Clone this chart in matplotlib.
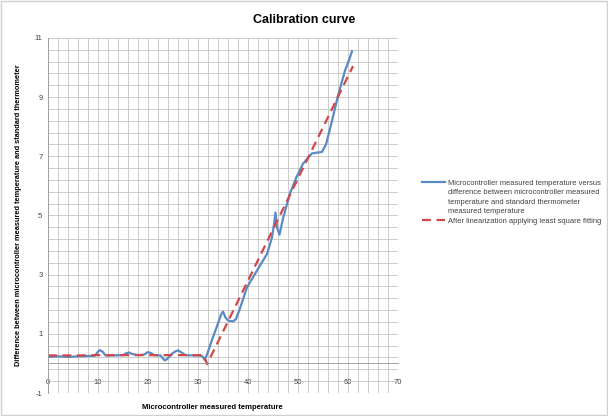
import matplotlib.pyplot as plt
import numpy as np
from matplotlib.patches import Rectangle

# blue: microcontroller measured temperature vs difference
mc_temp = [0, 2, 4, 6, 8, 9.4, 9.9, 10.4, 10.9, 11.5, 13, 15, 15.6, 16.2, 16.8, 18,
           19.3, 19.9, 20.5, 21.2, 22.5, 23.0, 23.4, 23.9, 24.6, 25.4, 26.0, 26.6,
           27.5, 29, 30.3, 30.9, 31.3, 31.8, 32.8, 34, 34.6, 35.0, 35.5, 36.0, 37,
           37.6, 38.4, 39.8, 41.8, 43.8, 44.8, 45.2, 45.5, 45.8, 46.3, 47, 48.4, 49.7,
           51, 52, 52.8, 54.8, 55.6, 56.8, 58, 59.4, 60.2, 60.8]
mc_diff = [0.22, 0.24, 0.22, 0.24, 0.25, 0.26, 0.38, 0.45, 0.4, 0.27, 0.27, 0.28,
           0.34, 0.37, 0.32, 0.28, 0.3, 0.38, 0.36, 0.28, 0.27, 0.16, 0.1, 0.16,
           0.3, 0.4, 0.44, 0.38, 0.28, 0.27, 0.27, 0.24, 0.12, 0.3, 0.8, 1.35, 1.65,
           1.75, 1.55, 1.45, 1.42, 1.5, 1.86, 2.57, 3.14, 3.7, 4.26, 4.7, 5.1, 4.6,
           4.35, 4.9, 5.75, 6.3, 6.75, 6.95, 7.1, 7.15, 7.4, 8.2, 9.05, 9.9, 10.25,
           10.55]

# red: after linearization (least squares)
fit_temp = [0, 5, 10, 15, 20, 25, 30, 31.2, 31.8, 61]
fit_diff = [0.27, 0.27, 0.28, 0.28, 0.28, 0.28, 0.28, 0.28, -0.03, 10.05]

x_labels = np.arange(0, 71, 10)
y_labels = np.arange(-1, 12, 2)

plt.rcParams['font.family'] = ['Liberation Sans', 'DejaVu Sans']
plt.rcParams['axes.unicode_minus'] = False

fig = plt.figure(figsize=(6.08, 4.16), dpi=100)
ax = fig.add_axes([48 / 608, 1 - 393 / 416, 350 / 608, 355 / 416])

ax.plot(mc_temp, mc_diff, color='#5a8ac4', lw=1.6,
        label='Microcontroller measured temperature versus')
ax.plot([], [], color='none',
        label='difference between microcontroller measured\n'
              'temperature and standard thermometer\n'
              'measured temperature')
ax.plot(fit_temp, fit_diff, color='#d0484a', lw=1.6, ls=(0, (4, 2.5)),
        label='After linearization applying least square fitting')

ax.set_xlim(0, 70)
ax.set_ylim(-1, 11)
ax.set_xticks(x_labels)
ax.set_yticks(y_labels)
ax.set_xticks(np.arange(0, 71, 2), minor=True)
ax.set_yticks(np.arange(-1, 11.01, 0.4), minor=True)
ax.grid(which='both', color='#c4c4c4', lw=0.6)
ax.set_axisbelow(True)

ax.spines['bottom'].set_position(('data', 0))
for s in ax.spines.values():
    s.set_color('#a0a0a0')
    s.set_linewidth(0.7)
ax.spines['top'].set_visible(False)
ax.spines['right'].set_visible(False)
ax.tick_params(which='both', length=0, labelsize=5.5, labelcolor='#404040', pad=4)
ax.tick_params(axis='x', pad=11)

fig.text(0.5, 0.952, 'Calibration curve', fontsize=9, fontweight='bold',
         ha='center', va='center')
ax.set_xlabel('Microcontroller measured temperature', fontsize=5.5, fontweight='bold')
ax.xaxis.set_label_coords(0.47, -0.03)
ax.set_ylabel('Difference between microcontroller measured temperature and standard thermometer',
              fontsize=5.3, fontweight='bold')
ax.yaxis.set_label_coords(-0.075, 0.5)

leg = ax.legend(loc='upper left', bbox_to_anchor=(1.06, 0.61), frameon=False,
                fontsize=5.4, handlelength=3.0, handletextpad=0.5, labelspacing=0.35,
                borderaxespad=0)
for t in leg.get_texts():
    t.set_color('#404040')
    t.set_linespacing(1.45)

fig.add_artist(Rectangle((0.002, 0.003), 0.996, 0.994, transform=fig.transFigure,
                         fill=False, edgecolor='#d0d0d0', lw=1))

fig.savefig('out.png', dpi=100)
